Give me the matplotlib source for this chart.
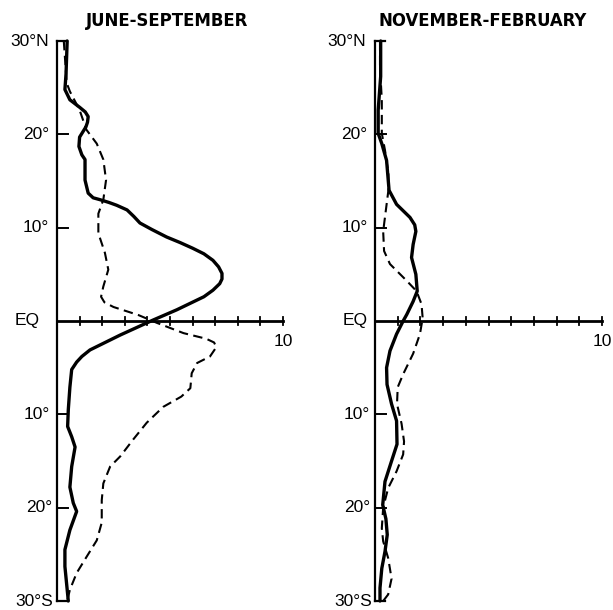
import matplotlib
matplotlib.use("Agg")
import matplotlib.pyplot as plt
from matplotlib import font_manager as fm

# ---- data (latitude in degrees, +N / -S; x = value 0..10) ----
js_solid_lat = [30, 26.5, 24.8, 23.7, 22.9, 22.4, 21.9, 21.3, 20.8, 19.7, 18.7, 17.8, 17.3, 15.1,
                13.7, 13.2, 13.0, 12.7, 12.4, 11.9, 11.2, 10.5, 9.8, 9.0, 8.4, 7.8, 7.2, 6.5, 5.8,
                5.1, 4.5, 4.0, 3.3, 2.6, 1.2, 0.1, -1.5, -3.1, -3.8, -4.4, -5.2, -7.1, -9.5,
                -11.3, -12.4, -13.5, -15.6, -17.8, -19.5, -20.4, -22.4, -24.5, -26.3, -30]
js_solid_val = [0.45, 0.4, 0.35, 0.57, 1.0, 1.25, 1.38, 1.35, 1.28, 1.0, 0.97, 1.1, 1.24, 1.24,
                1.38, 1.6, 1.9, 2.3, 2.64, 3.1, 3.4, 3.67, 4.2, 4.85, 5.45, 6.0, 6.5, 6.9, 7.15,
                7.3, 7.3, 7.2, 6.9, 6.5, 5.3, 4.25, 2.8, 1.46, 1.1, 0.87, 0.65, 0.57, 0.5,
                0.47, 0.65, 0.8, 0.65, 0.57, 0.72, 0.87, 0.57, 0.35, 0.35, 0.5]

js_dash_lat = [30, 25.5, 24.6, 22.6, 20.5, 19.0, 17.3, 15.1, 13.0, 11.5, 9.4, 7.3, 5.5, 3.7, 2.6,
               2.0, 1.5, 0.64, -0.2, -1.3, -1.9, -2.3, -2.8, -3.8, -4.5, -5.6, -7.2, -8.1, -9.2,
               -10.9, -12.7, -14.5, -15.6, -17.4, -19.2, -21.6, -23.5, -25.3, -27.0, -28.8, -30]
js_dash_val = [0.3, 0.43, 0.57, 1.0, 1.3, 1.76, 2.05, 2.17, 2.05, 1.83, 1.83, 2.12, 2.27, 2.05, 1.95,
               2.1, 2.5, 3.6, 4.42, 5.6, 6.6, 6.95, 7.05, 6.77, 6.2, 5.96, 5.9, 5.5, 4.7,
               3.97, 3.37, 2.8, 2.35, 2.05, 1.98, 1.98, 1.76, 1.3, 0.87, 0.57, 0.45]

nf_solid_lat = [30, 26.2, 22.6, 20.1, 19.0, 17.2, 14.0, 12.5, 11.1, 10.3, 9.6, 8.2, 6.8, 5.0, 3.2,
                2.1, 0.7, 0, -1.4, -3.2, -5.0, -6.8, -8.9, -10.7, -13.2, -15.0, -17.2, -19.7,
                -21.2, -22.9, -24.7, -26.5, -28.6, -30]
nf_solid_val = [0.25, 0.25, 0.14, 0.14, 0.3, 0.51, 0.62, 0.95, 1.54, 1.75, 1.8, 1.68, 1.61, 1.8, 1.86,
                1.68, 1.4, 1.24, 0.95, 0.66, 0.51, 0.53, 0.73, 0.95, 0.97, 0.73, 0.44, 0.34,
                0.48, 0.54, 0.44, 0.3, 0.22, 0.22]

nf_dash_lat = [30, 27.2, 23.7, 20.1, 18.3, 15.8, 14.0, 11.9, 9.6, 7.5, 6.1, 4.3, 3.2, 1.8, 0.3,
               -1.4, -3.5, -5.7, -7.1, -8.9, -11.0, -12.9, -14.3, -16.1, -17.9, -20.0, -22.2,
               -23.6, -25.4, -27.6, -29.3, -30]
nf_dash_val = [0.22, 0.22, 0.3, 0.3, 0.44, 0.59, 0.59, 0.48, 0.36, 0.4, 0.66, 1.4, 1.83, 2.05, 2.1,
               1.98, 1.68, 1.24, 1.0, 0.97, 1.17, 1.28, 1.24, 0.95, 0.58, 0.36, 0.3,
               0.36, 0.58, 0.73, 0.58, 0.36]

titles = ["JUNE-SEPTEMBER", "NOVEMBER-FEBRUARY"]
lat_ticks = [30, 20, 10, 0, -10, -20, -30]
lat_labels = ["30°N", "20°", "10°", "EQ", "10°", "20°", "30°S"]
x_ticks = list(range(1, 11))

W, H = 613, 610
fig = plt.figure(figsize=(W / 100, H / 100), dpi=100)

label_font = ["Liberation Sans", "DejaVu Sans"]

# look for a condensed / narrow bold face for the titles
cands = [f for f in fm.fontManager.ttflist
         if ("narrow" in f.name.lower() or "condensed" in f.name.lower()
             or "condensed" in str(f.stretch).lower())]
cands.sort(key=lambda f: (0 if str(f.weight) in ("bold", "700") else 1,
                          0 if f.style == "normal" else 1))
if cands:
    title_prop = fm.FontProperties(fname=cands[0].fname, size=13.2)
else:
    title_prop = fm.FontProperties(family=["Liberation Sans", "DejaVu Sans"], weight="bold", size=12)

panels = [
    dict(x0=57, x10=283, solid=(js_solid_val, js_solid_lat), dash=(js_dash_val, js_dash_lat),
         title=titles[0], tcx=167, gaps=[8, 8, 8, 17, 7, 5, 4]),
    dict(x0=375, x10=602, solid=(nf_solid_val, nf_solid_lat), dash=(nf_dash_val, nf_dash_lat),
         title=titles[1], tcx=483, gaps=[9, 8, 7, 7, 5, 5, 3]),
]
y_top, y_bot = 41, 601

for p in panels:
    ax = fig.add_axes([p["x0"] / W, 1 - y_bot / H, (p["x10"] - p["x0"]) / W, (y_bot - y_top) / H])
    ax.set_xlim(0, 10)
    ax.set_ylim(-30, 30)
    ax.axis("off")
    # vertical axis
    ax.plot([0, 0], [-30, 30], color="black", lw=1.6, clip_on=False)
    ax.plot([0, 0.45], [30, 30], color="black", lw=1.6, clip_on=False)
    ax.plot([0, 0.45], [-30, -30], color="black", lw=1.6, clip_on=False)
    # latitude ticks
    for t in [20, 10, -10, -20]:
        ax.plot([0, 0.5], [t, t], color="black", lw=1.4, clip_on=False)
    # horizontal axis at the equator
    ax.plot([0, 10], [0, 0], color="black", lw=2.0, clip_on=False)
    for t in x_ticks:
        ax.plot([t, t], [-0.45, 0.45], color="black", lw=1.3, clip_on=False)
    ax.annotate("10", xy=(10, 0), xytext=(0, -9), textcoords="offset points",
                ha="center", va="top", fontsize=12.5, family=label_font)
    # curves
    ax.plot(p["solid"][0], p["solid"][1], color="black", lw=2.4, solid_joinstyle="round",
            solid_capstyle="round", clip_on=False)
    ax.plot(p["dash"][0], p["dash"][1], color="black", lw=1.5, dashes=(4.5, 2.6),
            dash_joinstyle="round", clip_on=False)
    # latitude labels
    for t, lab, g in zip(lat_ticks, lat_labels, p["gaps"]):
        ax.annotate(lab, xy=(0, t), xytext=(-g * 0.72, 0), textcoords="offset points",
                    ha="right", va="center", fontsize=12.5, family=label_font)
    fig.text(p["tcx"] / W, 1 - 21 / H, p["title"], ha="center", va="center",
             fontproperties=title_prop)

fig.savefig("out.png", dpi=100, facecolor="white")
